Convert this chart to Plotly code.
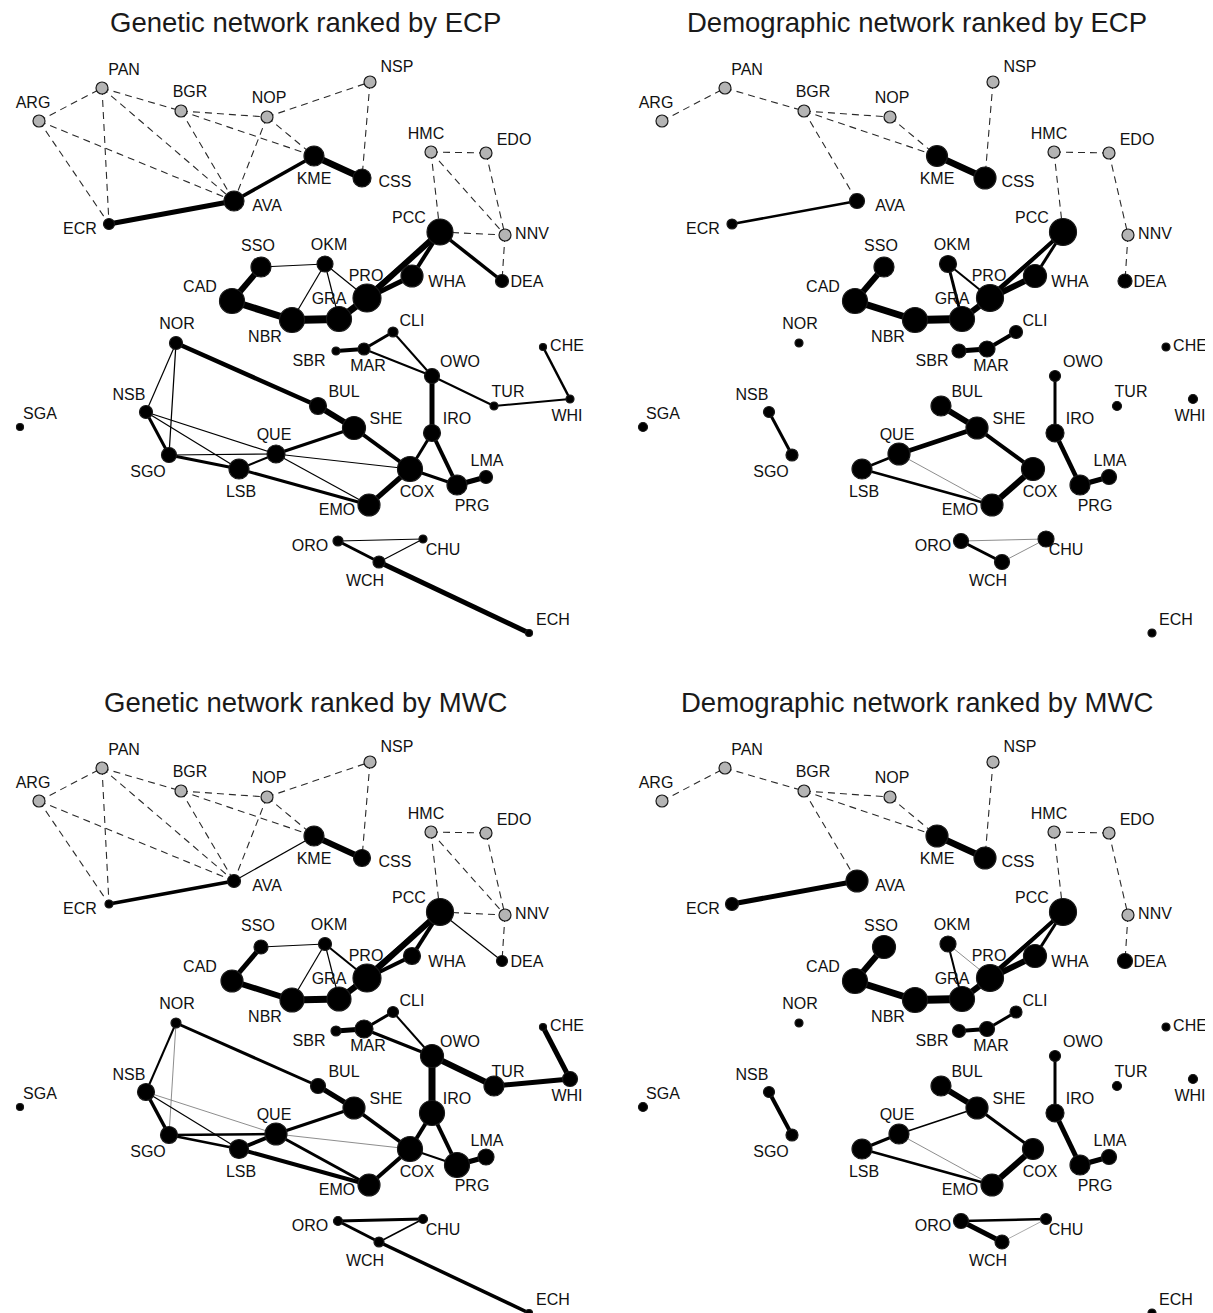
import plotly.graph_objects as go

# ---------------- data ----------------
NODES = ["ARG","PAN","BGR","NOP","NSP","KME","CSS","AVA","ECR","HMC","EDO","PCC","NNV","DEA",
         "SSO","OKM","CAD","PRO","WHA","GRA","NBR","NOR","CLI","SBR","MAR","OWO","CHE","TUR",
         "WHI","NSB","SGA","BUL","SHE","IRO","QUE","SGO","LSB","COX","LMA","PRG","EMO","ORO",
         "CHU","WCH","ECH"]
NODE_X = [39,102,181,267,370,314,362,234,109,431,486,440,505,502,
          261,325,232,367,412,339,292,176,393,336,364,432,543,494,
          570,146,20,318,354,432,276,169,239,410,486,457,369,338,
          423,379,529]
NODE_Y = [121,88,111,117,82,156,178,201,224,152,153,232,235,281,
          267,264,301,298,276,319,320,343,332,351,349,376,347,406,
          399,412,427,406,428,433,454,455,469,469,477,485,505,541,
          539,562,633]
GREY_NODES = ["ARG","PAN","BGR","NOP","NSP","HMC","EDO","NNV"]

# node importance (diameter) per panel, in NODES order
SIZE_GEN_ECP = [12,12,12,12,12,20,18,20,11,12,12,26,12,13,
                20,16,25,28,22,25,25,13,10,8,12,15,7,8,
                8,13,7,17,23,17,18,15,20,25,13,20,22,10,
                8,12,7]
SIZE_DEM_ECP = [12,12,12,12,12,21,22,15,10,12,12,27,12,14,
                20,17,25,27,23,25,25,8,13,14,16,11,8,9,
                9,11,9,20,22,18,22,12,20,23,15,20,22,15,
                16,15,8]
SIZE_GEN_MWC = [12,12,12,12,12,20,17,13,8,12,12,27,12,11,
                14,13,22,28,17,24,24,10,11,10,18,23,7,20,
                15,17,7,15,22,25,22,17,19,25,16,25,22,9,
                9,10,7]
SIZE_DEM_MWC = [12,12,12,12,12,22,22,22,13,12,12,27,12,15,
                23,16,25,27,23,25,25,8,12,13,15,11,8,9,
                9,11,9,20,22,18,20,12,20,21,15,20,22,15,
                11,14,8]

GEN_DASHED = [("ARG","PAN"),("ARG","AVA"),("ARG","ECR"),("PAN","BGR"),("PAN","ECR"),("PAN","AVA"),
              ("BGR","NOP"),("BGR","AVA"),("BGR","KME"),("NOP","NSP"),("NOP","AVA"),("NOP","KME"),
              ("NSP","CSS"),("HMC","EDO"),("HMC","PCC"),("HMC","NNV"),("EDO","NNV"),("PCC","NNV"),
              ("NNV","DEA")]
DEM_DASHED = [("ARG","PAN"),("PAN","BGR"),("BGR","NOP"),("BGR","KME"),("NOP","KME"),("BGR","AVA"),
              ("NSP","CSS"),("HMC","EDO"),("HMC","PCC"),("EDO","NNV"),("NNV","DEA")]

EDGES_GEN_ECP = [("ECR","AVA",5),("AVA","KME",3.5),("KME","CSS",6.5),("PCC","DEA",3.5),("PCC","PRO",6),
                 ("PCC","WHA",4),("WHA","PRO",5),("PCC","GRA",2.5),("SSO","OKM",1.2),("SSO","CAD",6),
                 ("CAD","NBR",7),("NBR","GRA",8),("GRA","PRO",7),("OKM","NBR",1.2),("OKM","GRA",1.2),
                 ("OKM","PRO",1.2),("NOR","BUL",4.5),("BUL","SHE",6),("SHE","COX",4),("SHE","QUE",3),
                 ("NOR","NSB",1.2),("NOR","SGO",1.2),("NSB","SGO",3),("NSB","LSB",1.2),("NSB","QUE",1.2),
                 ("SGO","QUE",1.2),("SGO","LSB",3),("LSB","QUE",2),("LSB","EMO",3),("QUE","EMO",1.2),
                 ("QUE","COX",1.2),("COX","EMO",5),("COX","IRO",3),("COX","PRG",3),("IRO","OWO",5),
                 ("IRO","PRG",4),("PRG","LMA",5),("SBR","MAR",4),("MAR","CLI",3),("CLI","OWO",2),
                 ("MAR","OWO",2),("OWO","TUR",2),("TUR","WHI",2),("WHI","CHE",2.5),("ORO","CHU",1.2),
                 ("WCH","CHU",1.2),("ORO","WCH",3),("WCH","ECH",5)]
EDGES_DEM_ECP = [("ECR","AVA",2.5),("KME","CSS",6.5),("SSO","CAD",6),("CAD","NBR",7),("NBR","GRA",8),
                 ("GRA","PRO",6),("OKM","GRA",3),("OKM","PRO",2),("PCC","PRO",4),("PCC","WHA",3),
                 ("WHA","PRO",6),("PCC","GRA",2),("SBR","MAR",5),("MAR","CLI",4),("NSB","SGO",3),
                 ("BUL","SHE",6),("SHE","QUE",4.5),("SHE","COX",4),("COX","EMO",6),("LSB","QUE",2.5),
                 ("LSB","EMO",2.5),("QUE","EMO",0.8),("OWO","IRO",3),("IRO","PRG",4.5),("PRG","LMA",5),
                 ("ORO","WCH",3),("ORO","CHU",0.8),("WCH","CHU",0.8)]
EDGES_GEN_MWC = [("ECR","AVA",3.5),("AVA","KME",1.2),("KME","CSS",6),("PCC","DEA",1.2),("PCC","PRO",6),
                 ("PCC","WHA",4),("WHA","PRO",4),("PCC","GRA",3),("SSO","OKM",1.2),("SSO","CAD",5),
                 ("CAD","NBR",6),("NBR","GRA",7),("GRA","PRO",6),("OKM","NBR",1.2),("OKM","GRA",1.2),
                 ("OKM","PRO",2),("NOR","BUL",3),("BUL","SHE",5),("SHE","COX",3.5),("SHE","QUE",3),
                 ("NOR","NSB",2),("NOR","SGO",0.8),("NSB","SGO",3.5),("NSB","LSB",1.2),("NSB","QUE",0.8),
                 ("SGO","QUE",2.5),("SGO","LSB",2.5),("LSB","QUE",4),("LSB","EMO",4),("QUE","EMO",3),
                 ("QUE","COX",0.8),("COX","EMO",4),("COX","IRO",4),("COX","PRG",2),("IRO","OWO",7),
                 ("IRO","PRG",4),("PRG","LMA",5),("SBR","MAR",5),("MAR","CLI",3),("CLI","OWO",2),
                 ("MAR","OWO",3),("OWO","TUR",6),("TUR","WHI",5),("WHI","CHE",5),("ORO","CHU",3),
                 ("WCH","CHU",1.5),("ORO","WCH",3),("WCH","ECH",3.5)]
EDGES_DEM_MWC = [("ECR","AVA",5),("KME","CSS",6.5),("SSO","CAD",6),("CAD","NBR",7),("NBR","GRA",8),
                 ("GRA","PRO",6),("OKM","GRA",2),("OKM","PRO",0.8),("PCC","PRO",4),("PCC","WHA",3),
                 ("WHA","PRO",6),("PCC","GRA",2),("SBR","MAR",4),("MAR","CLI",3),("NSB","SGO",4),
                 ("BUL","SHE",6),("SHE","QUE",1.5),("SHE","COX",3),("COX","EMO",6),("LSB","QUE",3),
                 ("LSB","EMO",2.5),("QUE","EMO",0.8),("OWO","IRO",3),("IRO","PRG",5),("PRG","LMA",5),
                 ("ORO","WCH",5),("ORO","CHU",2.5),("WCH","CHU",0.6)]

TITLES = ["Genetic network ranked by ECP", "Demographic network ranked by ECP",
          "Genetic network ranked by MWC", "Demographic network ranked by MWC"]

# ---------------- label placement (pixels relative to node) ----------------
LABEL_OFFSET = {
    "ARG":(-6,-17),"PAN":(22,-17),"BGR":(9,-18),"NOP":(2,-18),"NSP":(27,-14),"KME":(0,24),
    "CSS":(33,5),"AVA":(33,6),"ECR":(-29,6),"HMC":(-5,-17),"EDO":(28,-12),"PCC":(-31,-13),
    "NNV":(27,0),"DEA":(25,2),"SSO":(-3,-20),"OKM":(4,-18),"CAD":(-32,-13),"PRO":(-1,-21),
    "WHA":(35,7),"GRA":(-10,-19),"NBR":(-27,18),"NOR":(1,-18),"CLI":(19,-10),"SBR":(-27,11),
    "MAR":(4,18),"OWO":(28,-13),"CHE":(24,0),"TUR":(14,-13),"WHI":(-3,18),"NSB":(-17,-16),
    "SGA":(20,-12),"BUL":(26,-13),"SHE":(32,-8),"IRO":(25,-13),"QUE":(-2,-18),"SGO":(-21,18),
    "LSB":(2,24),"COX":(7,24),"LMA":(1,-15),"PRG":(15,22),"EMO":(-32,6),"ORO":(-28,6),
    "CHU":(20,12),"WCH":(-14,20),"ECH":(24,-12),
}

PAGE_W, PAGE_H = 1213, 1313
BODY = 8                      # default page margin around the plot div
W, H = PAGE_W - BODY, PAGE_H - BODY
FONT = "Liberation Sans, Arial, sans-serif"
pos = {n: (x, y) for n, x, y in zip(NODES, NODE_X, NODE_Y)}

panels = [
    (SIZE_GEN_ECP, GEN_DASHED, EDGES_GEN_ECP),
    (SIZE_DEM_ECP, DEM_DASHED, EDGES_DEM_ECP),
    (SIZE_GEN_MWC, GEN_DASHED, EDGES_GEN_MWC),
    (SIZE_DEM_MWC, DEM_DASHED, EDGES_DEM_MWC),
]

fig = go.Figure()
for i, (sizes, dashed, edges) in enumerate(panels):
    ax = "" if i == 0 else str(i + 1)
    xr, yr = "x" + ax, "y" + ax
    for a, b in dashed:
        fig.add_trace(go.Scatter(x=[pos[a][0], pos[b][0]], y=[pos[a][1], pos[b][1]], mode="lines",
                                 line=dict(color="#2a2a2a", width=1.1, dash="7px,5px"),
                                 hoverinfo="skip", showlegend=False, xaxis=xr, yaxis=yr))
    for a, b, w in edges:
        col = "#000000" if w >= 1 else "#707070"
        fig.add_trace(go.Scatter(x=[pos[a][0], pos[b][0]], y=[pos[a][1], pos[b][1]], mode="lines",
                                 line=dict(color=col, width=w),
                                 hoverinfo="skip", showlegend=False, xaxis=xr, yaxis=yr))
    colors = ["#b4b4b4" if n in GREY_NODES else "#000000" for n in NODES]
    fig.add_trace(go.Scatter(x=NODE_X, y=NODE_Y, mode="markers",
                             marker=dict(size=sizes, color=colors, opacity=1,
                                         line=dict(color="#1a1a1a", width=1.2)),
                             text=NODES, hoverinfo="text", showlegend=False,
                             cliponaxis=False, xaxis=xr, yaxis=yr))
    fig.add_trace(go.Scatter(x=[pos[n][0] + LABEL_OFFSET[n][0] for n in NODES],
                             y=[pos[n][1] + LABEL_OFFSET[n][1] for n in NODES],
                             mode="text", text=NODES, textposition="middle center",
                             textfont=dict(family=FONT, size=16, color="#111111"),
                             hoverinfo="skip", showlegend=False, cliponaxis=False,
                             xaxis=xr, yaxis=yr))

# axes: one data unit = one screen pixel (page coordinates of the reference)
MID_X, MID_Y = PAGE_W / 2, PAGE_H / 2
XSHIFT = [0, 623, 0, 623]     # where each panel's layout origin sits on the page
YSHIFT = [0, 0, 680, 680]
axis_common = dict(visible=False, showgrid=False, zeroline=False, fixedrange=True)
layout_axes = {}
for i in range(4):
    col, row = i % 2, i // 2
    px0, px1 = (BODY, MID_X) if col == 0 else (MID_X, PAGE_W)
    py0, py1 = (BODY, MID_Y) if row == 0 else (MID_Y, PAGE_H)
    xk = "xaxis" if i == 0 else f"xaxis{i+1}"
    yk = "yaxis" if i == 0 else f"yaxis{i+1}"
    layout_axes[xk] = dict(axis_common, domain=[(px0 - BODY) / W, (px1 - BODY) / W],
                           range=[px0 - XSHIFT[i], px1 - XSHIFT[i]])
    layout_axes[yk] = dict(axis_common, domain=[1 - (py1 - BODY) / H, 1 - (py0 - BODY) / H],
                           range=[py1 - YSHIFT[i], py0 - YSHIFT[i]])

title_pos = [(305, 22), (917, 22), (305, 702), (917, 702)]
annotations = [dict(text=t, x=(px - BODY) / W, y=1 - (py - BODY) / H, xref="paper", yref="paper",
                    showarrow=False, xanchor="center", yanchor="middle",
                    font=dict(family=FONT, size=27.5, color="#1a1a1a"))
               for t, (px, py) in zip(TITLES, title_pos)]

fig.update_layout(width=W, height=H, margin=dict(l=0, r=0, t=0, b=0),
                  paper_bgcolor="white", plot_bgcolor="white",
                  annotations=annotations, **layout_axes)

fig.write_html("out.html")
